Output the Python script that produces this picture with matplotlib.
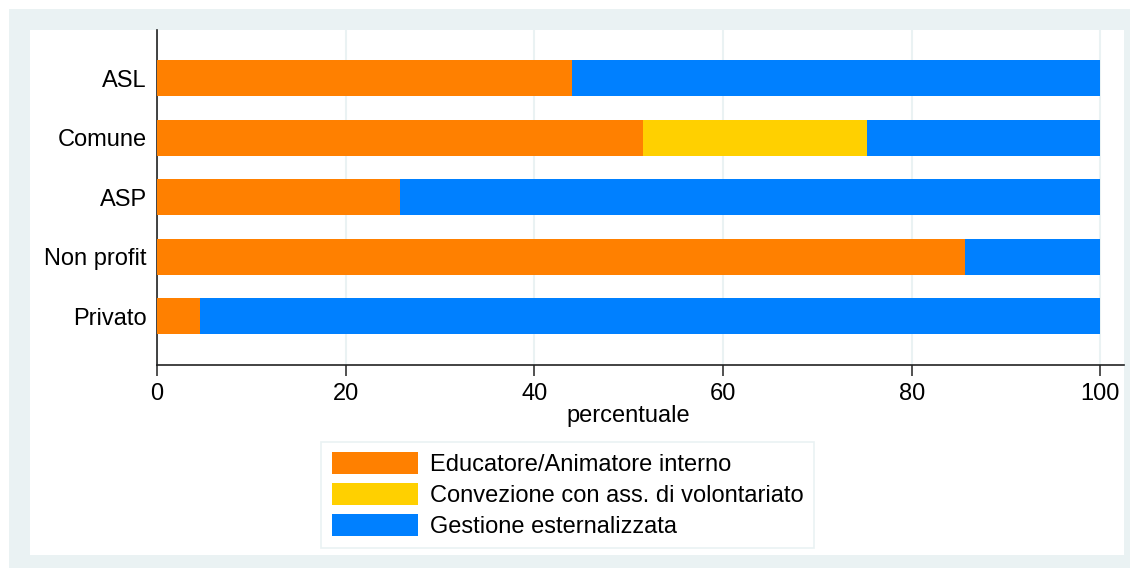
import matplotlib
matplotlib.use("Agg")
import matplotlib.pyplot as plt
from matplotlib.patches import Rectangle, Patch

# dati (percentuali)
categorie = ["ASL", "Comune", "ASP", "Non profit", "Privato"]
interno = [44.0, 51.5, 25.8, 85.6, 4.6]
volontariato = [0.0, 23.8, 0.0, 0.0, 0.0]
esterno = [56.0, 24.7, 74.2, 14.4, 95.4]
serie_nomi = ["Educatore/Animatore interno",
              "Convezione con ass. di volontariato",
              "Gestione esternalizzata"]
colori = ["#FF8000", "#FFD000", "#0080FF"]
ticks_x = [0, 20, 40, 60, 80, 100]

W, H = 1130, 568
plt.rcParams["font.family"] = ["Liberation Sans", "DejaVu Sans"]

fig = plt.figure(figsize=(W / 100, H / 100), dpi=100, facecolor="white")
band = "#EAF2F3"
fs = 17


def fx(px):
    return px / W


def fy(py):
    return 1 - py / H


fig.patches.append(Rectangle((fx(9), 0), 1 - fx(9), fy(9), transform=fig.transFigure,
                             facecolor=band, edgecolor="none", zorder=-10))
fig.patches.append(Rectangle((fx(30), fy(555)), fx(1124) - fx(30), fy(30) - fy(555),
                             transform=fig.transFigure, facecolor="white",
                             edgecolor="none", zorder=-9))

ax = fig.add_axes([fx(157), fy(365), fx(1124) - fx(157), fy(30) - fy(365)])
ax.set_facecolor("none")

pos = list(range(len(categorie)))
sinistra = [0.0] * len(categorie)
for valori, col in zip([interno, volontariato, esterno], colori):
    ax.barh(pos, valori, left=sinistra, height=0.6, color=col, linewidth=0, zorder=3)
    sinistra = [a + b for a, b in zip(sinistra, valori)]

ax.set_xlim(0, 102.5)
ax.set_ylim(4.82, -0.81)
ax.set_yticks(pos)
ax.set_yticklabels(categorie)
ax.set_xticks(ticks_x)
ax.tick_params(axis="y", length=0, pad=7.5, labelsize=fs)
ax.tick_params(axis="x", length=8, width=1.2, pad=5, labelsize=fs, color="#333333")
ax.grid(axis="x", color=band, linewidth=1.5, zorder=0)
ax.set_axisbelow(True)
for s in ["top", "right"]:
    ax.spines[s].set_visible(False)
for s in ["left", "bottom"]:
    ax.spines[s].set_linewidth(1.2)
    ax.spines[s].set_color("#222222")

ax.set_xlabel("percentuale", fontsize=fs)
ax.xaxis.set_label_coords(50 / 102.5, -0.12)

handles = [Patch(facecolor=c, edgecolor="none") for c in colori]
leg = fig.legend(handles, serie_nomi, loc="center",
                 bbox_to_anchor=(fx(567.5), fy(495)), fontsize=fs,
                 handlelength=3.65, handleheight=1.06, handletextpad=0.5,
                 labelspacing=0.28, borderpad=0.45, fancybox=False,
                 frameon=True, edgecolor=band, framealpha=1)
leg.get_frame().set_linewidth(1.2)

fig.savefig("out.png", dpi=100, facecolor="white")
